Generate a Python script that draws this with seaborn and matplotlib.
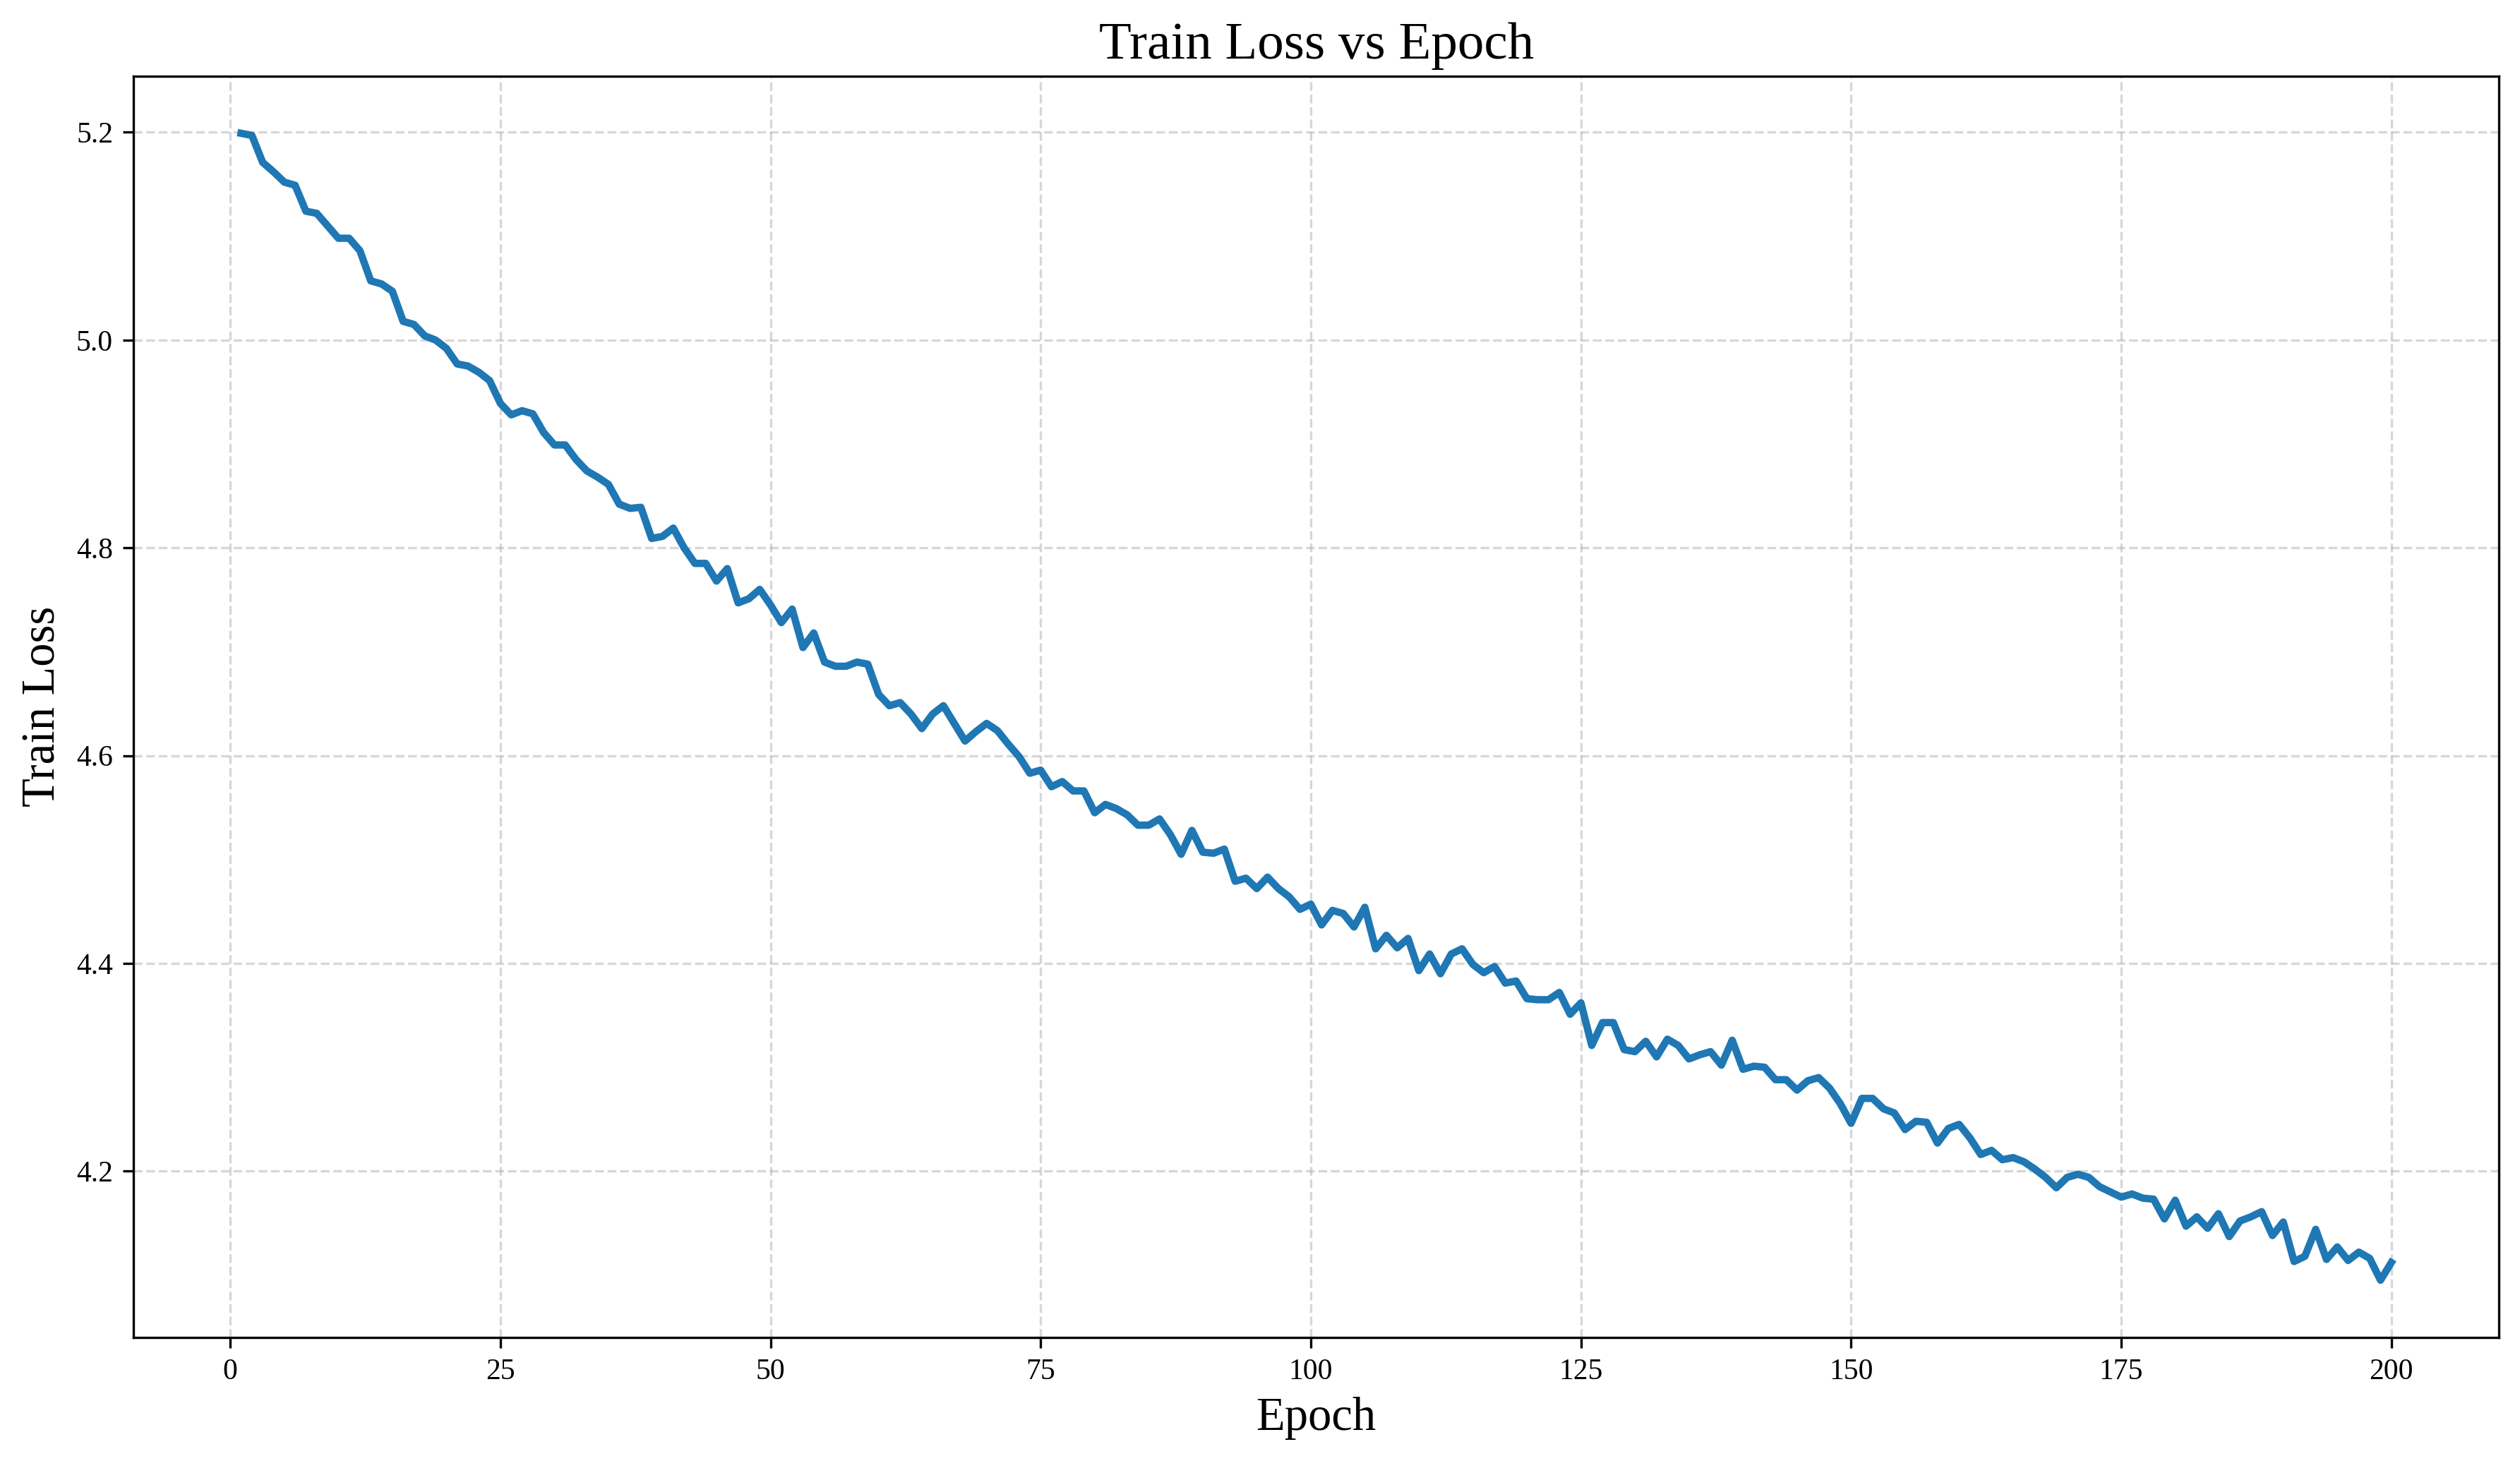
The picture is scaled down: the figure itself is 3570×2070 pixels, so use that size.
import numpy as np
import pandas as pd
import matplotlib
matplotlib.use("Agg")
import matplotlib.pyplot as plt
import seaborn as sns

# --- data ---
epochs = list(range(1, 201))

loss_1_50 = [
    5.199, 5.197, 5.171, 5.162, 5.152, 5.149, 5.124, 5.122, 5.110, 5.098,
    5.098, 5.086, 5.057, 5.054, 5.047, 5.018, 5.015, 5.004, 5.000, 4.992,
    4.977, 4.975, 4.969, 4.961, 4.939, 4.928, 4.932, 4.929, 4.911, 4.899,
    4.899, 4.885, 4.874, 4.868, 4.861, 4.842, 4.838, 4.839, 4.809, 4.811,
    4.819, 4.800, 4.785, 4.785, 4.768, 4.780, 4.747, 4.751, 4.760, 4.745,
]
loss_51_100 = [
    4.728, 4.741, 4.704, 4.718, 4.690, 4.686, 4.686, 4.690, 4.688, 4.659,
    4.648, 4.651, 4.640, 4.626, 4.640, 4.648, 4.631, 4.614, 4.623, 4.631,
    4.624, 4.611, 4.599, 4.583, 4.586, 4.570, 4.575, 4.566, 4.566, 4.545,
    4.553, 4.549, 4.543, 4.533, 4.533, 4.539, 4.524, 4.505, 4.528, 4.507,
    4.506, 4.510, 4.479, 4.482, 4.472, 4.483, 4.472, 4.464, 4.452, 4.457,
]
loss_101_150 = [
    4.437, 4.451, 4.448, 4.435, 4.454, 4.414, 4.427, 4.415, 4.424, 4.393,
    4.409, 4.390, 4.409, 4.414, 4.399, 4.391, 4.397, 4.381, 4.383, 4.366,
    4.365, 4.365, 4.372, 4.351, 4.362, 4.321, 4.343, 4.343, 4.317, 4.315,
    4.325, 4.310, 4.327, 4.321, 4.308, 4.312, 4.315, 4.302, 4.326, 4.298,
    4.301, 4.300, 4.288, 4.288, 4.278, 4.287, 4.290, 4.280, 4.265, 4.246,
]
loss_151_200 = [
    4.270, 4.270, 4.260, 4.256, 4.240, 4.248, 4.247, 4.227, 4.241, 4.245,
    4.232, 4.216, 4.220, 4.211, 4.213, 4.209, 4.202, 4.194, 4.184, 4.194,
    4.197, 4.194, 4.185, 4.180, 4.175, 4.178, 4.174, 4.173, 4.154, 4.172,
    4.147, 4.156, 4.145, 4.159, 4.137, 4.152, 4.156, 4.161, 4.138, 4.151,
    4.113, 4.118, 4.144, 4.115, 4.127, 4.114, 4.122, 4.116, 4.095, 4.112,
]
train_loss = loss_1_50 + loss_51_100 + loss_101_150 + loss_151_200

df = pd.DataFrame({"Epoch": epochs, "Train Loss": train_loss})

# --- plotting ---
plt.rcParams["font.family"] = ["Liberation Serif", "DejaVu Serif"]

fig, ax = plt.subplots(figsize=(11.9, 6.9), dpi=300)
fig.subplots_adjust(left=0.053, right=0.9916, top=0.948, bottom=0.0845)

sns.lineplot(data=df, x="Epoch", y="Train Loss", color="#1f77b4", linewidth=2.5, ax=ax)

ax.grid(True, linestyle="--", alpha=0.5)
ax.set_title("Train Loss vs Epoch", fontsize=18)
ax.set_xlabel("Epoch", fontsize=16)
ax.set_ylabel("Train Loss", fontsize=16)
ax.tick_params(labelsize=10)

fig.savefig("out.png", dpi=300)
